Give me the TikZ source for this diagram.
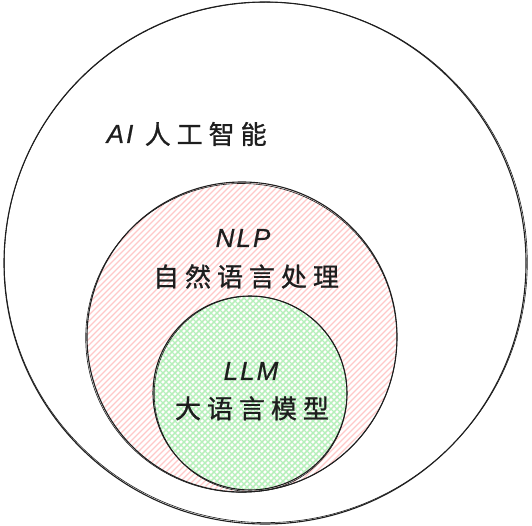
\documentclass[tikz,border=0pt]{standalone}
\usepackage{fontspec}
\setmainfont{Liberation Sans}
\newfontfamily\hand[LetterSpace=8,FakeBold=0.6]{Liberation Sans}
\newfontfamily\cjk[LetterSpace=23,FakeBold=1]{Noto Sans CJK SC}
\usetikzlibrary{positioning}
\definecolor{inkline}{HTML}{1E1E1E}
\definecolor{nlppink}{HTML}{FFC9C9}
\definecolor{llmgreen}{HTML}{B2F2BB}
\tikzset{
  ring/.style={draw=inkline, line width=1.1pt},
  pinkhatch/.style={draw=nlppink, line width=1.1pt},
  greenhatch/.style={draw=llmgreen, line width=1.1pt},
  latin/.style={font=\fontsize{26}{30}\selectfont\hand\itshape, text=inkline, inner sep=0pt},
  hanzi/.style={font=\fontsize{26}{30}\selectfont\cjk, text=inkline, inner sep=0pt}
}

\begin{document}
\begin{tikzpicture}[x=1pt, y=-1pt]
  \useasboundingbox (0,0) rectangle (532,526);
  \coordinate (aic)  at (265,263);
  \coordinate (nlpc) at (242,337);
  \coordinate (llmc) at (250,393);

  % hachure fills
  \begin{scope}
    \clip (nlpc) circle[radius=155];
    \foreach \d in {-150,-144,...,306}
      \draw[pinkhatch] (\d,500) -- ++(320,-320);
  \end{scope}
  \begin{scope}
    \clip (llmc) circle[radius=97];
    \foreach \d in {0,6,...,288}
      \draw[greenhatch] (\d,500) -- ++(320,-320);
    \foreach \d in {-102,-96,...,180}
      \draw[greenhatch] (\d,180) -- ++(320,320);
  \end{scope}

  % sketchy outlines
  \draw[ring] (aic) circle[radius=261];
  \draw[ring, line width=0.6pt] ([shift={(0.8,-0.6)}]aic) ellipse[x radius=261.5, y radius=260.2];
  \draw[ring] (nlpc) circle[radius=155];
  \draw[ring, line width=0.6pt] ([shift={(-0.7,0.9)}]nlpc) ellipse[x radius=155.6, y radius=154.4];
  \draw[ring] (llmc) circle[radius=97];
  \draw[ring, line width=0.6pt] ([shift={(0.6,0.8)}]llmc) ellipse[x radius=96.4, y radius=97.6];

  % labels
  \node[latin] (ai)    at (120,134)                      {AI};
  \node[hanzi] (aizh)  [right=11pt of ai]                {人工智能};
  \node[latin] (nlp)   at (243,238)                      {NLP};
  \node[hanzi] (nlpzh) [below=17pt of nlp, xshift=3pt]   {自然语言处理};
  \node[latin] (llm)   at (251,371)                      {LLM};
  \node[hanzi] (llmzh) [below=16pt of llm, xshift=1pt]   {大语言模型};
\end{tikzpicture}
\end{document}
